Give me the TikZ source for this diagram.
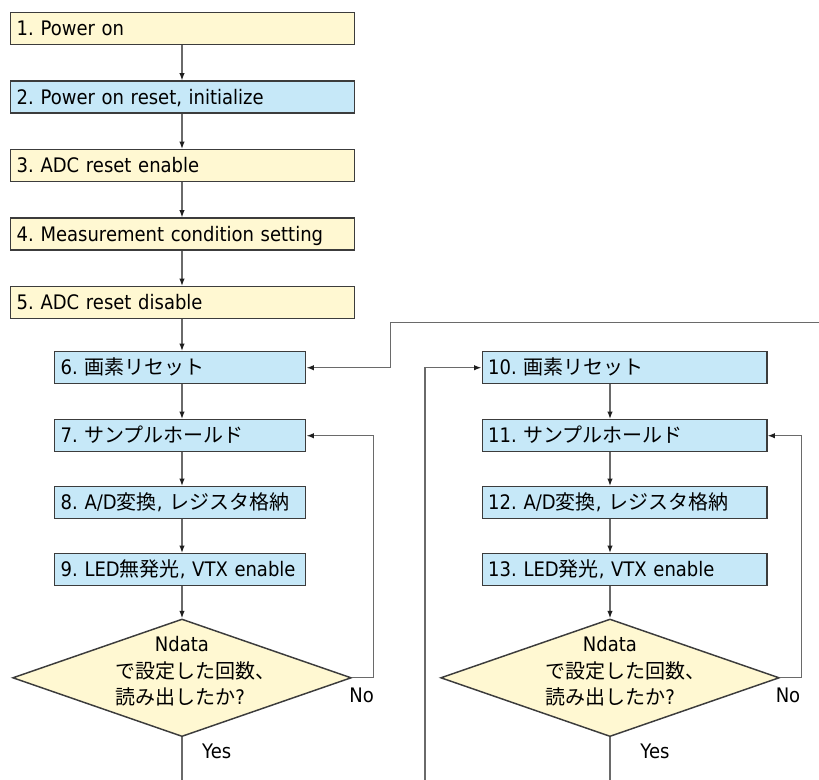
\documentclass[tikz,border=0pt]{standalone}
\usepackage{fontspec}
\setmainfont{DejaVu Sans}[FakeStretch=0.9,WordSpace=0.9]
\newfontfamily\jp{Noto Sans CJK JP}
\usetikzlibrary{shapes.geometric,arrows.meta}
\frenchspacing
\definecolor{boxyel}{HTML}{FFF8D2}
\definecolor{boxblu}{HTML}{C6E8F8}
\definecolor{edgecol}{HTML}{3C3C3C}
\definecolor{linecol}{HTML}{6A6A6A}
\definecolor{tipcol}{HTML}{1E1E1E}
\begin{document}
\begin{tikzpicture}[x=0.75pt,y=-0.75pt,
  box/.style={draw=edgecol, line width=1.1pt, anchor=north west, align=left,
    text height=10.9pt, text depth=0pt, inner xsep=4.5pt, inner ysep=0pt,
    minimum height=24pt, font=\fontsize{15pt}{18pt}\selectfont\frenchspacing},
  wide/.style={text width=249pt},
  mid/.style={text width=179.25pt},
  rcol/.style={text width=204.4pt},
  yel/.style={fill=boxyel},
  blu/.style={fill=boxblu},
  dia/.style={diamond, draw=edgecol, line width=1.1pt, fill=boxyel,
    minimum width=254pt, minimum height=88.2pt, inner sep=0pt},
  lbl/.style={font=\fontsize{15pt}{18pt}\selectfont, inner sep=0pt},
  arr/.style={draw=linecol, line width=1pt, -{Latex[length=5.5pt,width=4pt,color=tipcol]}},
  ln/.style={draw=linecol, line width=1pt}]
\useasboundingbox (0,0) rectangle (819,780);

% left upper column
\node[box,yel,wide] (b1) at (10,12) {1. Power on};
\node[box,blu,wide] (b2) at (10,80.5) {2. Power on reset, initialize};
\node[box,yel,wide] (b3) at (10,149) {3. ADC reset enable};
\node[box,yel,wide] (b4) at (10,217.5) {4. Measurement condition setting};
\node[box,yel,wide] (b5) at (10,286) {5. ADC reset disable};

% left lower column
\node[box,blu,mid] (b6) at (54,351) {6. {\jp 画素リセット}};
\node[box,blu,mid] (b7) at (54,419) {7. {\jp サンプルホールド}};
\node[box,blu,mid] (b8) at (54,486) {8. A/D{\jp 変換}, {\jp レジスタ格納}};
\node[box,blu,mid] (b9) at (54,553) {9. LED{\jp 無発光}, VTX enable};

% right column
\node[box,blu,rcol] (b10) at (481.5,351) {10. {\jp 画素リセット}};
\node[box,blu,rcol] (b11) at (481.5,419) {11. {\jp サンプルホールド}};
\node[box,blu,rcol] (b12) at (481.5,486) {12. A/D{\jp 変換}, {\jp レジスタ格納}};
\node[box,blu,rcol] (b13) at (481.5,553) {13. LED{\jp 発光}, VTX enable};

% decisions
\node[dia] (d1) at (182,677.8) {};
\node[dia] (d2) at (610,677.8) {};
\node[lbl,anchor=base] (t1a) at (182,652) {Ndata};
\node[lbl,anchor=base west] (t1b) at (115,678.5) {\jp で設定した回数、};
\node[lbl,anchor=base west] (t1c) at (115,705) {{\jp 読み出したか}?};
\node[lbl,anchor=base] (t2a) at (610,652) {Ndata};
\node[lbl,anchor=base west] (t2b) at (545,678.5) {\jp で設定した回数、};
\node[lbl,anchor=base west] (t2c) at (545,705) {{\jp 読み出したか}?};

\node[lbl] (no1) at (361.7,695) {No};
\node[lbl] (yes1) at (216.7,751) {Yes};
\node[lbl] (no2) at (788,695) {No};
\node[lbl] (yes2) at (655,751) {Yes};

% helper coordinates
\coordinate (cl) at (182,0);
\coordinate (cr) at (610,0);
\coordinate (fl) at (373.3,0);
\coordinate (fr) at (801.7,0);
\coordinate (vx) at (390.7,0);
\coordinate (topin) at (819,322.8);
\coordinate (botin) at (425,780);
\coordinate (e1) at (182,780);
\coordinate (e2) at (610,780);

% left connectors
\draw[arr] (b1.south -| cl) -- (b2.north -| cl);
\draw[arr] (b2.south -| cl) -- (b3.north -| cl);
\draw[arr] (b3.south -| cl) -- (b4.north -| cl);
\draw[arr] (b4.south -| cl) -- (b5.north -| cl);
\draw[arr] (b5.south -| cl) -- (b6.north -| cl);
\draw[arr] (b6.south -| cl) -- (b7.north -| cl);
\draw[arr] (b7.south -| cl) -- (b8.north -| cl);
\draw[arr] (b8.south -| cl) -- (b9.north -| cl);
\draw[arr] (b9.south -| cl) -- (d1.north);
\draw[ln] (d1.south) -- (e1);
\draw[arr] (d1.east) -| (fl |- b7.east) -- (b7.east);
\draw[arr] (topin) -| (vx |- b6.east) -- (b6.east);

% right connectors
\draw[arr] (botin) |- (b10.west);
\draw[arr] (b10.south -| cr) -- (b11.north -| cr);
\draw[arr] (b11.south -| cr) -- (b12.north -| cr);
\draw[arr] (b12.south -| cr) -- (b13.north -| cr);
\draw[arr] (b13.south -| cr) -- (d2.north);
\draw[ln] (d2.south) -- (e2);
\draw[arr] (d2.east) -| (fr |- b11.east) -- (b11.east);
\end{tikzpicture}
\end{document}
